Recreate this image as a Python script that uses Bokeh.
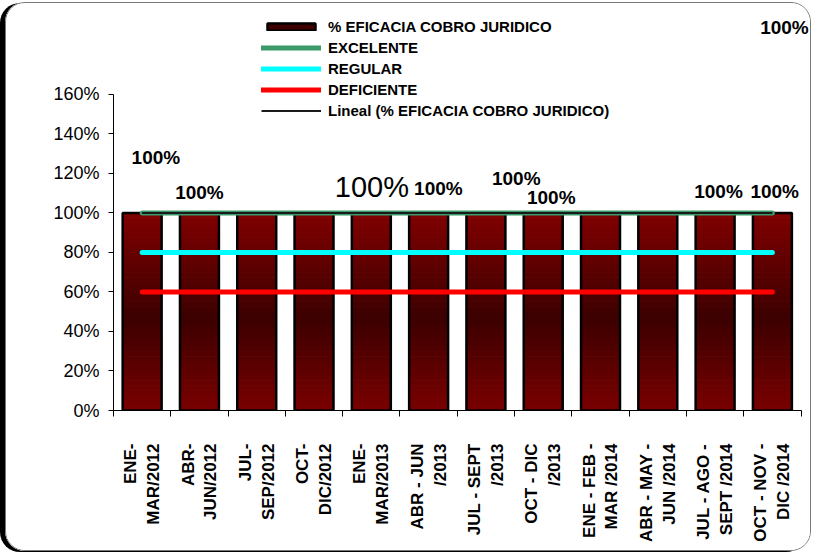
import math
from bokeh.plotting import figure
from bokeh.models import (Range1d, FixedTicker, NumeralTickFormatter, Legend, LegendItem,
                          Label, ColumnDataSource)
from bokeh.embed import file_html
from bokeh.resources import INLINE

# ---------------- data ----------------
periods = ["ENE-\nMAR/2012", "ABR-\nJUN/2012", "JUL-\nSEP/2012", "OCT-\nDIC/2012",
           "ENE-\nMAR/2013", "ABR - JUN\n/2013", "JUL - SEPT\n/2013", "OCT - DIC\n/2013",
           "ENE - FEB -\nMAR /2014", "ABR - MAY -\nJUN /2014", "JUL - AGO -\nSEPT /2014",
           "OCT - NOV -\nDIC /2014"]
eficacia = [1.0, 1.0, 1.0, 1.0, 1.0, 1.0, 1.0, 1.0, 1.0, 1.0, 1.0, 1.0]
excelente = [1.0] * 12
regular = [0.8] * 12
deficiente = [0.6] * 12
y_ticks = [0.0, 0.2, 0.4, 0.6, 0.8, 1.0, 1.2, 1.4, 1.6]

# data-label placement (bar index, offsets from bar top) - styling only
lbl_bar = [0, 1, 4, 5, 6, 7, 10, 11, 8]
lbl_dx = [0.24, 0.0, 0.01, 0.17, 0.53, 0.14, 0.06, 0.04, 3.21]
lbl_dy = [0.282, 0.104, 0.130, 0.125, 0.175, 0.079, 0.109, 0.109, 0.940]
lbl_big = [False, False, True, False, False, False, False, False, False]

FONT = "Liberation Sans"
idx = list(range(len(periods)))
n = len(periods)

Y_AXIS_MAX = 1.6
Y_VIEW_MAX = 2.06   # extra headroom above the axis for the legend / labels
X_VIEW_MAX = n - 0.5 + 0.2  # a little room right of the last category

p = figure(width=806, height=549, output_backend="svg", toolbar_location=None,
           x_range=Range1d(-0.5, X_VIEW_MAX), y_range=Range1d(0, Y_VIEW_MAX),
           min_border_left=107, min_border_right=0, min_border_top=0, min_border_bottom=142)
p.title = None
p.outline_line_color = None
p.xgrid.visible = False
p.ygrid.visible = False
p.background_fill_color = "white"
p.border_fill_color = "white"
p.styles = {"border": "1.5px solid #7a7a7a", "border-radius": "20px",
            "box-shadow": "-5px 1px 0px #000000", "overflow": "hidden",
            "margin-left": "5px", "margin-top": "2px"}

# ---------------- gradient bars ----------------
def grad(t):
    top = (128, 0, 0); mid = (60, 0, 0); bot = (122, 0, 0)
    tm = 0.47
    if t < tm:
        f = t / tm; a, b = bot, mid
    else:
        f = (t - tm) / (1 - tm); a, b = mid, top
    c = [int(round(a[i] + (b[i] - a[i]) * f)) for i in range(3)]
    return "#%02x%02x%02x" % tuple(c)

N = 40
slice_renderers = []
for k in range(N):
    src = ColumnDataSource(dict(x=idx,
                                bottom=[v * k / N for v in eficacia],
                                top=[v * (k + 1) / N for v in eficacia]))
    col = grad((k + 0.5) / N)
    r = p.vbar(x="x", bottom="bottom", top="top", width=0.68, source=src,
               fill_color=col, line_color=col, line_width=1)
    slice_renderers.append(r)

bar_outline = p.vbar(x=idx, top=eficacia, bottom=0, width=0.68,
                     fill_alpha=0, line_color="black", line_width=2.5)

# ---------------- reference lines ----------------
r_exc = p.line(idx, excelente, line_color="#3a9a6a", line_width=5, line_cap="round")
r_reg = p.line(idx, regular, line_color="#00ffff", line_width=5, line_cap="round")
r_def = p.line(idx, deficiente, line_color="#ff0000", line_width=5, line_cap="round")
r_trend = p.line(idx, eficacia, line_color="#1a1a1a", line_width=2)

# ---------------- axes ----------------
p.yaxis.ticker = FixedTicker(ticks=y_ticks)
p.yaxis.bounds = (0, Y_AXIS_MAX)
p.yaxis.formatter = NumeralTickFormatter(format="0%")
p.yaxis.major_label_text_font = FONT
p.yaxis.major_label_text_font_size = "18px"
p.yaxis.major_label_text_color = "black"
p.yaxis.major_tick_out = 5
p.yaxis.major_tick_in = 0
p.yaxis.minor_tick_out = 0
p.yaxis.minor_tick_in = 0
p.yaxis.axis_line_color = "black"
p.yaxis.major_tick_line_color = "black"
p.yaxis.major_label_standoff = 9

p.xaxis.ticker = FixedTicker(ticks=idx, minor_ticks=[i - 0.5 for i in range(n + 1)])
p.xaxis.bounds = (-0.5, n - 0.5)
p.xaxis.major_label_overrides = {i: periods[i] for i in idx}
p.xaxis.major_label_orientation = math.pi / 2
p.xaxis.major_label_text_font = FONT
p.xaxis.major_label_text_font_size = "17px"
p.xaxis.major_label_text_font_style = "bold"
p.xaxis.major_label_text_color = "black"
p.xaxis.major_tick_out = 0
p.xaxis.major_tick_in = 0
p.xaxis.minor_tick_out = 6
p.xaxis.minor_tick_in = 0
p.xaxis.minor_tick_line_color = "black"
p.xaxis.axis_line_color = "black"
p.xaxis.major_label_standoff = 27

# ---------------- data labels ----------------
for b, dx, dy, big in zip(lbl_bar, lbl_dx, lbl_dy, lbl_big):
    p.add_layout(Label(x=idx[b] + dx, y=eficacia[b] + dy, text="%d%%" % round(eficacia[b] * 100),
                       text_font=FONT, text_font_size="29px" if big else "19px",
                       text_font_style="normal" if big else "bold",
                       text_align="center", text_baseline="middle", text_color="black"))

# ---------------- legend ----------------
legend = Legend(items=[
    LegendItem(label="% EFICACIA COBRO JURIDICO", renderers=[slice_renderers[N // 2], bar_outline]),
    LegendItem(label="EXCELENTE", renderers=[r_exc]),
    LegendItem(label="REGULAR", renderers=[r_reg]),
    LegendItem(label="DEFICIENTE", renderers=[r_def]),
    LegendItem(label="Lineal (% EFICACIA COBRO JURIDICO)", renderers=[r_trend]),
], location=(148, 291))
legend.glyph_width = 60
legend.glyph_height = 9
legend.label_height = 15
legend.spacing = 4
legend.padding = 0
legend.margin = 0
legend.label_standoff = 7
legend.border_line_color = None
legend.background_fill_alpha = 0
legend.label_text_font = FONT
legend.label_text_font_size = "15px"
legend.label_text_font_style = "bold"
legend.label_text_color = "black"
p.add_layout(legend)

open("out.html", "w").write(file_html(p, INLINE))
